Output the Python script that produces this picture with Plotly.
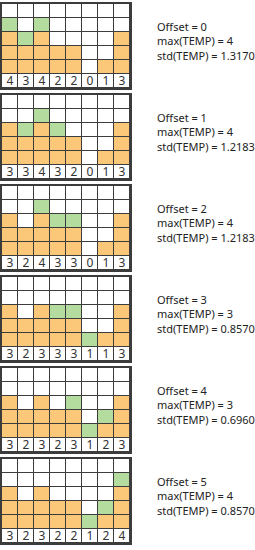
import plotly.graph_objects as go

# ---- data ----
base_heights = [3, 2, 3, 2, 2, 0, 1, 3]
offsets = [0, 1, 2, 3, 4, 5]
green_added = [
    [1, 1, 1, 0, 0, 0, 0, 0],
    [0, 1, 1, 1, 0, 0, 0, 0],
    [0, 0, 1, 1, 1, 0, 0, 0],
    [0, 0, 0, 1, 1, 1, 0, 0],
    [0, 0, 0, 0, 1, 1, 1, 0],
    [0, 0, 0, 0, 0, 1, 1, 1],
]
totals = [
    [4, 3, 4, 2, 2, 0, 1, 3],
    [3, 3, 4, 3, 2, 0, 1, 3],
    [3, 2, 4, 3, 3, 0, 1, 3],
    [3, 2, 3, 3, 3, 1, 1, 3],
    [3, 2, 3, 2, 3, 1, 2, 3],
    [3, 2, 3, 2, 2, 1, 2, 4],
]
max_temp = [4, 4, 4, 3, 3, 4]
std_temp = ["1.3170", "1.2183", "1.2183", "0.8570", "0.6960", "0.8570"]
n_rows = 5

# ---- style ----
W, H = 255, 550
ORANGE = "#FBC879"
GREEN = "#B5DC9F"
LINE = "#3c3c3c"
FONT = "Noto Sans"
x0_px, x1_px = 2, 130
panel_top0, panel_step, panel_h = 4, 91, 84

fig = go.Figure()
cols = list(range(len(base_heights)))
rows_y = list(range(n_rows + 1))  # 0 = number row, 1..5 grid rows

for k, off in enumerate(offsets):
    z = []
    text = []
    z.append([0] * len(cols))
    text.append([str(v) for v in totals[k]])
    for r in range(1, n_rows + 1):
        row = []
        for c in cols:
            b = base_heights[c]
            g = green_added[k][c]
            if r <= b:
                row.append(1)
            elif r <= b + g:
                row.append(2)
            else:
                row.append(0)
        z.append(row)
        text.append([""] * len(cols))
    ax = "" if k == 0 else str(k + 1)
    fig.add_trace(go.Heatmap(
        z=z, x=cols, y=rows_y, text=text, texttemplate="%{text}",
        textfont=dict(family=FONT, size=12, color="#333333"),
        colorscale=[[0, "#FFFFFF"], [0.5, ORANGE], [1, GREEN]],
        zmin=0, zmax=2, showscale=False, xgap=1, ygap=1,
        hoverinfo="skip", xaxis="x" + ax, yaxis="y" + ax,
    ))
    top = panel_top0 + panel_step * k
    bot = top + panel_h
    fig.layout["xaxis" + ax] = dict(
        domain=[x0_px / W, x1_px / W], anchor="y" + ax,
        range=[-0.5, len(cols) - 0.5], showgrid=False, zeroline=False,
        showticklabels=False, ticks="", showline=True, mirror=True,
        linecolor=LINE, linewidth=1.5, fixedrange=True,
    )
    fig.layout["yaxis" + ax] = dict(
        domain=[1 - bot / H, 1 - top / H], anchor="x" + ax,
        range=[-0.5, n_rows + 0.5], showgrid=False, zeroline=False,
        showticklabels=False, ticks="", showline=True, mirror=True,
        linecolor=LINE, linewidth=1.5, fixedrange=True,
    )
    label = "<br>".join([f"Offset = {off}", f"max(TEMP) = {max_temp[k]}",
                         f"std(TEMP) = {std_temp[k]}"])
    fig.add_annotation(
        text=label, xref="paper", yref="paper", x=156 / W,
        y=1 - (top + 37) / H, xanchor="left", yanchor="middle", align="left",
        showarrow=False, font=dict(family=FONT, size=11, color="#222222"),
        borderpad=0,
    )

fig.update_layout(
    width=W, height=H, margin=dict(l=0, r=0, t=0, b=0),
    paper_bgcolor="white", plot_bgcolor=LINE, showlegend=False,
)
fig.write_html("out.html", config={"displayModeBar": False},
               post_script="document.body.style.margin='0';document.body.style.overflow='hidden';")
